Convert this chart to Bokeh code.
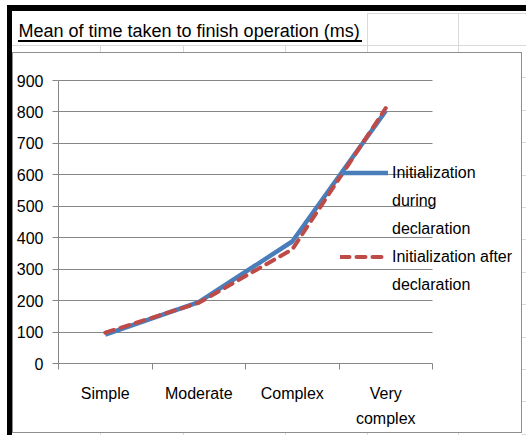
from bokeh.plotting import figure
from bokeh.models import (Range1d, LinearAxis, FixedTicker, Legend, LegendItem,
                          ColumnDataSource)
from bokeh.embed import file_html
from bokeh.resources import INLINE

# ---------------- data ----------------
title_text = "Mean of time taken to finish operation (ms)"
categories = ["Simple", "Moderate", "Complex", "Very complex"]
category_labels = ["Simple", "Moderate", "Complex", "Very\ncomplex"]
during_decl = [92, 195, 388, 803]
after_decl = [98, 193, 363, 812]
series_lines = [["Initialization", "during", "declaration"],
                ["Initialization after", "declaration"]]
y_ticks = [0, 100, 200, 300, 400, 500, 600, 700, 800, 900]

FONT = "Liberation Sans"
GRID = "#868686"
SHEET = "#d9d9d9"
BOXC = "#8e8e8e"

# page geometry (px)
W, H = 526, 435
FL, FR, FT, FB = 58, 526, 46, 363     # frame edges
PLOT_R, PLOT_T = 432, 80              # right edge / 900-line of the plot area

n = len(categories)
centers = [i + 0.5 for i in range(n)]
edges = list(range(n + 1))
x_end = n * (FR - FL) / (PLOT_R - FL)
y_end = y_ticks[-1] * (FB - FT) / (FB - PLOT_T)

p = figure(width=W, height=H, output_backend="svg", toolbar_location=None,
           x_range=Range1d(0, x_end), y_range=Range1d(y_ticks[0], y_end),
           x_axis_location=None,
           min_border_left=FL, min_border_right=W - FR, min_border_top=FT,
           min_border_bottom=H - FB)
p.background_fill_alpha = 0
p.border_fill_alpha = 0
p.outline_line_color = None
p.xgrid.visible = False

# title
p.title.text = title_text
p.title.text_font = FONT
p.title.text_font_size = "18px"
p.title.text_font_style = "normal"
p.title.text_color = "black"
p.title.align = "left"
p.title.offset = 18 - FL
p.title.standoff = 11

# y axis
ya = p.yaxis[0]
ya.ticker = FixedTicker(ticks=y_ticks)
ya.bounds = (y_ticks[0], y_ticks[-1])
ya.axis_line_color = GRID
ya.major_tick_line_color = GRID
ya.major_tick_out = 6
ya.major_tick_in = 0
ya.minor_tick_line_color = None
ya.major_label_text_font = FONT
ya.major_label_text_font_size = "16px"
ya.major_label_text_color = "black"
ya.major_label_standoff = 9
p.ygrid.grid_line_color = GRID
p.ygrid.ticker = FixedTicker(ticks=y_ticks)
p.ygrid.cross_bounds = (0, n)

# x axis: boundary ticks + category labels
edge_axis = LinearAxis(ticker=FixedTicker(ticks=edges), bounds=(0, n),
                       major_label_overrides={e: "" for e in edges},
                       major_label_text_font_size="1px",
                       axis_line_color=GRID, major_tick_line_color=GRID,
                       major_tick_out=6, major_tick_in=0, minor_tick_line_color=None,
                       major_label_standoff=0)
p.add_layout(edge_axis, "below")
cat_axis = LinearAxis(ticker=FixedTicker(ticks=centers),
                      axis_line_color=None, major_tick_line_color=None,
                      minor_tick_line_color=None, major_tick_out=0, major_tick_in=0,
                      major_label_overrides=dict(zip(centers, category_labels)),
                      major_label_text_font=FONT, major_label_text_font_size="16px",
                      major_label_text_color="black",
                      major_label_text_line_height=1.5,
                      major_label_standoff=15)
p.add_layout(cat_axis, "below")

# data lines
src = ColumnDataSource(dict(x=centers, cat=categories, during=during_decl, after=after_decl))
blue = p.line(x="x", y="during", source=src, line_color="#4a7ebb", line_width=4.5,
              line_join="round")
red = p.line(x="x", y="after", source=src, line_color="#be4b48", line_width=4,
             line_dash="9 7", line_cap="round", line_join="round")

# legend: glyph sits on the first line of each (wrapped) entry
items = []
for renderer, lines in zip([blue, red], series_lines):
    items.append(LegendItem(label=lines[0], renderers=[renderer]))
    for extra in lines[1:]:
        items.append(LegendItem(label=extra, renderers=[]))
legend = Legend(items=items, location=(340 - FL, FB - 298), orientation="vertical",
                glyph_width=48, glyph_height=27, label_height=27, label_standoff=4,
                padding=0, margin=0, spacing=1,
                border_line_color=None, background_fill_alpha=0,
                label_text_font=FONT, label_text_font_size="16px",
                label_text_color="black")
p.add_layout(legend)


# ---------- static sheet decorations (CSS background under the canvas) ----------
def seg(color, x, y, w, h):
    return f"linear-gradient({color},{color}) {x}px {y}px / {w}px {h}px no-repeat"


layers = [
    seg("black", 7, 5, W - 7, 6),            # window edge, top
    seg("black", 7, 5, 5, H - 5),            # window edge, left
    seg("black", 18, 40, 344, 2),            # title underline
    seg(BOXC, 12, 52, 510, 1),               # chart box
    seg(BOXC, 12, 432, 510, 1),
    seg(BOXC, 12, 52, 1, 381),
    seg(BOXC, 521, 52, 1, 381),
    seg(SHEET, 367, 13, W - 367, 1),         # sheet grid
    seg(SHEET, 12, 45, W - 12, 1),
]
for gx in (367, 458):
    layers.append(seg(SHEET, gx, 13, 1, 39))
for gx in (100, 183, 285):
    layers.append(seg(SHEET, gx, 45, 1, 7))
for gx in (100, 183, 285, 367, 458):
    layers.append(seg(SHEET, gx, 433, 1, 3))
for k in range(1, 13):
    layers.append(seg(SHEET, 522, round(45 + 32.4 * k), 4, 1))
p.styles = {"background": ", ".join(layers) + ", white"}

open("out.html", "w").write(file_html(p, INLINE))
